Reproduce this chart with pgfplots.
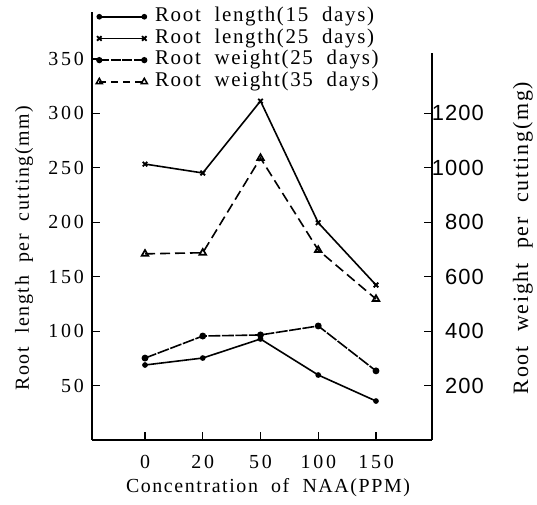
\documentclass[border=0pt]{standalone}
\usepackage{fontspec}
\usepackage{pgfplots}
\pgfplotsset{compat=1.18}
\setmainfont{Liberation Serif}
\newfontfamily\lbl{Liberation Serif}[LetterSpace=8,WordSpace=2]
\newfontfamily\tks{Liberation Serif}[LetterSpace=14]
\newfontfamily\rsans{Liberation Sans}[LetterSpace=5]
\begin{document}
\begin{tikzpicture}
\path[use as bounding box] (0,0) rectangle (537bp,505bp);
% left axis
\begin{axis}[
  at={(92bp,65bp)}, anchor=south west, scale only axis,
  width=340bp, height=428bp,
  xmin=-0.918, xmax=4.97, ymin=0, ymax=393.2,
  axis x line*=bottom, axis y line*=left,
  axis line style={-, line width=1.4bp},
  xtick={0,1,2,3,4}, xticklabels={0,20,50,100,150},
  ytick={50,100,150,200,250,300,350},
  tick align=inside, major tick length=8bp,
  tick style={line width=1.1bp, black},
  /pgf/number format/assume math mode=true,
  xticklabel style={font=\tks\fontsize{20}{22}\selectfont, anchor=north, inner sep=0pt, yshift=-15bp},
  yticklabel style={font=\tks\fontsize{20}{22}\selectfont, anchor=east, inner sep=0pt, xshift=-8bp},
  clip=false,
  legend cell align=left,
  legend style={at={(0.012,1.011)}, anchor=north west, draw=none, fill=none,
    inner sep=0pt, row sep=3.2bp,
    font=\lbl\fontsize{21}{24}\selectfont,
    nodes={inner sep=0pt, text height=14bp, text depth=4.5bp}},
  legend image code/.code={
    \draw[#1] plot coordinates {(0bp,0bp) (45bp,0bp)};
    \path (55bp,0bp);
  },
]
\addplot[black, line width=1.6bp, mark=*, mark size=2bp, mark options={solid}]
  coordinates {(0,68.9) (1,75.3) (2,92.8) (3,59.7) (4,35.8)};
\addlegendentry{Root length(15 days)}
\addplot[black, line width=1.6bp, mark=x, mark size=3.2bp, mark options={solid, line width=1.8bp}]
  coordinates {(0,253.5) (1,245.3) (2,311.4) (3,199.6) (4,142.4)};
\addlegendentry{Root length(25 days)}
\addlegendimage{black, line width=1.4bp, dash pattern=on 10bp off 1.5bp, mark=*, mark size=2.4bp, mark options={solid}}
\addlegendentry{Root weight(25 days)}
\addlegendimage{black, line width=1.4bp, dash pattern=on 7bp off 5bp, mark=triangle, mark size=3.5bp, mark options={solid, line width=1.5bp}}
\addlegendentry{Root weight(35 days)}
\end{axis}
% right axis
\begin{axis}[
  at={(92bp,65bp)}, anchor=south west, scale only axis,
  width=340bp, height=387bp,
  xmin=-0.918, xmax=4.97, ymin=0, ymax=1422,
  axis x line=none, axis y line*=right,
  axis line style={-, line width=1.4bp},
  ytick={200,400,600,800,1000,1200},
  tick align=inside, major tick length=8bp,
  tick style={line width=1.1bp, black},
  /pgf/number format/assume math mode=true,
  /pgf/number format/1000 sep={},
  yticklabel style={font=\rsans\fontsize{22}{24}\selectfont, anchor=east, inner sep=0pt, xshift=52bp},
  clip=false,
]
\addplot[black, line width=1.6bp, dash pattern=on 12bp off 1.5bp, mark=*, mark size=2.6bp, mark options={solid}]
  coordinates {(0,301) (1,382) (2,386) (3,419) (4,254)};
\addplot[black, line width=1.6bp, dash pattern=on 10bp off 5bp, mark=triangle, mark size=3.8bp, mark options={solid, line width=1.7bp}]
  coordinates {(0,684) (1,688) (2,1036) (3,698) (4,518)};
\end{axis}
\node[rotate=90, font=\lbl\fontsize{20}{24}\selectfont] at (24bp,257bp) {Root length per cutting(mm)};
\node[rotate=90, font=\lbl\fontsize{22}{26}\selectfont] at (523bp,267bp) {Root weight per cutting(mg)};
\node[font=\lbl\fontsize{20}{24}\selectfont] at (268bp,17bp) {Concentration of NAA(PPM)};
\end{tikzpicture}
\end{document}
